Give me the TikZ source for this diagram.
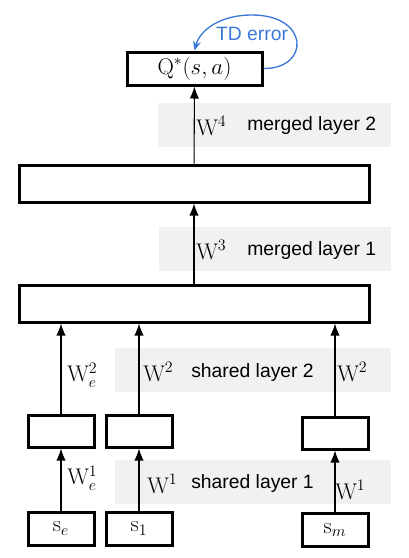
\documentclass[tikz,border=0pt]{standalone}
\usepackage{fontspec}
\newfontfamily\layerfont{Liberation Sans}
\usetikzlibrary{arrows.meta}
\definecolor{tdblue}{RGB}{60,120,216}

\begin{document}
\begin{tikzpicture}[x=0.75pt,y=-0.75pt]
\tikzset{unit/.style={draw, line width=2.25pt, inner sep=0pt},
  band/.style={fill=gray!11},
  lbl/.style={inner sep=0pt, anchor=west, font=\layerfont\fontsize{14.5}{17}\selectfont},
  wt/.style={inner sep=0pt, anchor=west, font=\fontsize{17}{20}\selectfont},
  conn/.style={-{Latex[length=9pt,width=7pt]}, line width=0.8pt}}
\useasboundingbox (0,0) rectangle (409,558);
% grey bands behind the weights
\fill[band] (158,103) rectangle (391,147);
\fill[band] (159,227) rectangle (391,271);
\fill[band] (115,348) rectangle (391,392);
\fill[band] (115,460) rectangle (391,504);
% units
\node[unit, minimum width=101.25pt, minimum height=24.75pt, font=\fontsize{17}{20}\selectfont] (Q) at (194.5,68.5) {$\mathrm{Q}^*(s,a)$};
\node[unit, minimum width=262.5pt, minimum height=27.75pt] (L2) at (194,183.5) {};
\node[unit, minimum width=262.5pt, minimum height=27.75pt] (L1) at (194,303.5) {};
\node[unit, minimum width=49.5pt, minimum height=24pt] (He) at (61,431) {};
\node[unit, minimum width=49.5pt, minimum height=24pt] (H1) at (139,431) {};
\node[unit, minimum width=49.5pt, minimum height=24pt] (Hm) at (335,433) {};
\node[unit, minimum width=49.5pt, minimum height=24.75pt, font=\fontsize{17}{20}\selectfont] (Se) at (61,528.5) {$\mathrm{s}_e$};
\node[unit, minimum width=49.5pt, minimum height=24.75pt, font=\fontsize{17}{20}\selectfont] (S1) at (139,528.5) {$\mathrm{s}_1$};
\node[unit, minimum width=49.5pt, minimum height=24.75pt, font=\fontsize{17}{20}\selectfont] (Sm) at (335,530) {$\mathrm{s}_m$};
% connections
\draw[conn] (Se) -- (He);
\draw[conn] (S1) -- (H1);
\draw[conn] (Sm) -- (Hm);
\draw[conn] (He) -- (He |- L1.south);
\draw[conn] (H1) -- (H1 |- L1.south);
\draw[conn] (Hm) -- (Hm |- L1.south);
\draw[conn] (L1) -- (L2);
\draw[conn] (L2) -- (Q);
% weights and layer names
\node[wt] (w4) at (196,126) {$\mathrm{W}^4$};
\node[lbl] (m2) at (247,125) {merged layer 2};
\node[wt] (w3) at (196,250) {$\mathrm{W}^3$};
\node[lbl] (m1) at (247,250) {merged layer 1};
\node[wt] (we2) at (67,375) {$\mathrm{W}_e^2$};
\node[wt] (w2a) at (143,372) {$\mathrm{W}^2$};
\node[lbl] (s2) at (191,372) {shared layer 2};
\node[wt] (w2b) at (337,372) {$\mathrm{W}^2$};
\node[wt] (we1) at (67,478) {$\mathrm{W}_e^1$};
\node[wt] (w1a) at (147,484) {$\mathrm{W}^1$};
\node[lbl] (s1) at (191,483) {shared layer 1};
\node[wt] (w1b) at (335,490) {$\mathrm{W}^1$};
% TD error loop
\node[font=\layerfont\fontsize{14.5}{17}\selectfont, text=tdblue, inner sep=0pt] (td) at (252,34) {TD error};
\draw[tdblue, line width=1pt, -{Stealth[length=7pt,width=6pt]}] (Q.east) .. controls (310,69) and (310,15) .. (252,15) .. controls (220,15) and (200,30) .. (Q.north);
\end{tikzpicture}
\end{document}
